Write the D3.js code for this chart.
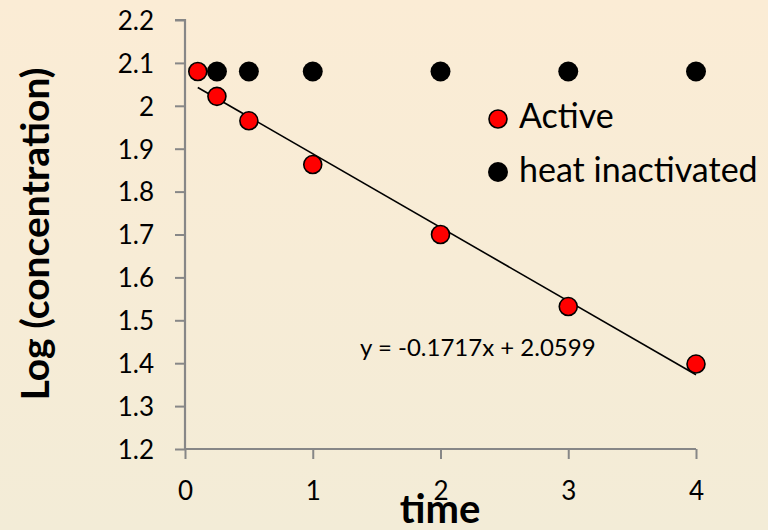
<!DOCTYPE html>
<html><head><meta charset="utf-8">
<script src="https://cdn.jsdelivr.net/npm/d3@7"></script>
<style>html,body{margin:0;padding:0;}svg{display:block;}</style>
</head><body>
<svg id="c" width="768" height="530"></svg>
<script>
const activeTime = [0.1, 0.25, 0.5, 1, 2, 3, 4];
const activeLog = [2.08, 2.022, 1.965, 1.863, 1.70, 1.532, 1.398];
const heatTime = [0.25, 0.5, 1, 2, 3, 4];
const heatLog = [2.08, 2.08, 2.08, 2.08, 2.08, 2.08];
const xTicks = [0, 1, 2, 3, 4];
const yTicks = [1.2, 1.3, 1.4, 1.5, 1.6, 1.7, 1.8, 1.9, 2, 2.1, 2.2];
const trend = {slope: -0.1717, intercept: 2.0599, from: 0.1, to: 4};
const legendLabels = ["Active", "heat inactivated"];

const FONT = "Lato, 'Open Sans', sans-serif";
const svg = d3.select("#c");
const defs = svg.append("defs");
const g = defs.append("linearGradient").attr("id","bg").attr("x1",0).attr("y1",0).attr("x2",0).attr("y2",1);
g.append("stop").attr("offset","0%").attr("stop-color","#FBECD5");
g.append("stop").attr("offset","100%").attr("stop-color","#F3ECD7");
svg.append("rect").attr("width",768).attr("height",530).attr("fill","url(#bg)");

const x = d3.scaleLinear().domain([0,4]).range([185,696]);
const y = d3.scaleLinear().domain([1.2,2.2]).range([449,20]);

const axisColor = "#878787";
const yAxis = svg.append("g").attr("transform",`translate(${x(0)},0)`)
  .call(d3.axisLeft(y).tickValues(yTicks).tickSize(10).tickPadding(21).tickFormat(d=>d3.format("")(+d.toFixed(1))));
const xAxis = svg.append("g").attr("transform",`translate(0,${y(1.2)})`)
  .call(d3.axisBottom(x).tickValues(xTicks).tickSize(10).tickFormat(d3.format("d")));
[yAxis,xAxis].forEach(a=>{
  a.select(".domain").attr("stroke",axisColor).attr("stroke-width",2.2);
  a.selectAll(".tick line").attr("stroke",axisColor).attr("stroke-width",2);
  a.selectAll(".tick text").attr("fill","#000").attr("font-family",FONT).attr("font-size",26);
});
yAxis.select(".domain").attr("d",`M-10,${y(2.2)}H0V${y(1.2)}`);
yAxis.selectAll(".tick text").attr("dy","0.36em");
xAxis.select(".domain").attr("d",`M${x(0)},0H${x(4)}`);
xAxis.selectAll(".tick text").attr("y",51).attr("dy",0);

// trendline
svg.append("line")
  .attr("x1",x(trend.from)).attr("y1",y(trend.slope*trend.from+trend.intercept))
  .attr("x2",x(trend.to)).attr("y2",y(trend.slope*trend.to+trend.intercept))
  .attr("stroke","#000").attr("stroke-width",1.6);

// heat inactivated
svg.append("g").selectAll("circle").data(heatTime.map((t,i)=>[t,heatLog[i]])).join("circle")
  .attr("cx",d=>x(d[0])).attr("cy",d=>y(d[1])).attr("r",10).attr("fill","#000");
// active
svg.append("g").selectAll("circle").data(activeTime.map((t,i)=>[t,activeLog[i]])).join("circle")
  .attr("cx",d=>x(d[0])).attr("cy",d=>y(d[1])).attr("r",9).attr("fill","#FF0000")
  .attr("stroke","#000").attr("stroke-width",1.6);

// equation
svg.append("text").attr("x",360).attr("y",356).attr("font-family",FONT).attr("font-size",24)
  .text(`y = ${trend.slope}x + ${trend.intercept}`);

// legend
const leg = svg.append("g");
leg.append("circle").attr("cx",498).attr("cy",119).attr("r",9).attr("fill","#FF0000").attr("stroke","#000").attr("stroke-width",1.6);
leg.append("circle").attr("cx",498).attr("cy",172).attr("r",10).attr("fill","#000");
leg.selectAll("text").data(legendLabels).join("text")
  .attr("x",519).attr("y",(d,i)=>128+i*54).attr("font-family",FONT).attr("font-size",34).text(d=>d);

// axis titles
svg.append("text").attr("transform",`translate(49,234) rotate(-90)`).attr("text-anchor","middle")
  .attr("font-family",FONT).attr("font-weight","bold").attr("font-size",39).text("Log (concentration)");
svg.append("text").attr("x",440).attr("y",523).attr("text-anchor","middle")
  .attr("font-family",FONT).attr("font-weight","bold").attr("font-size",40).text("time");
</script>
</body></html>
